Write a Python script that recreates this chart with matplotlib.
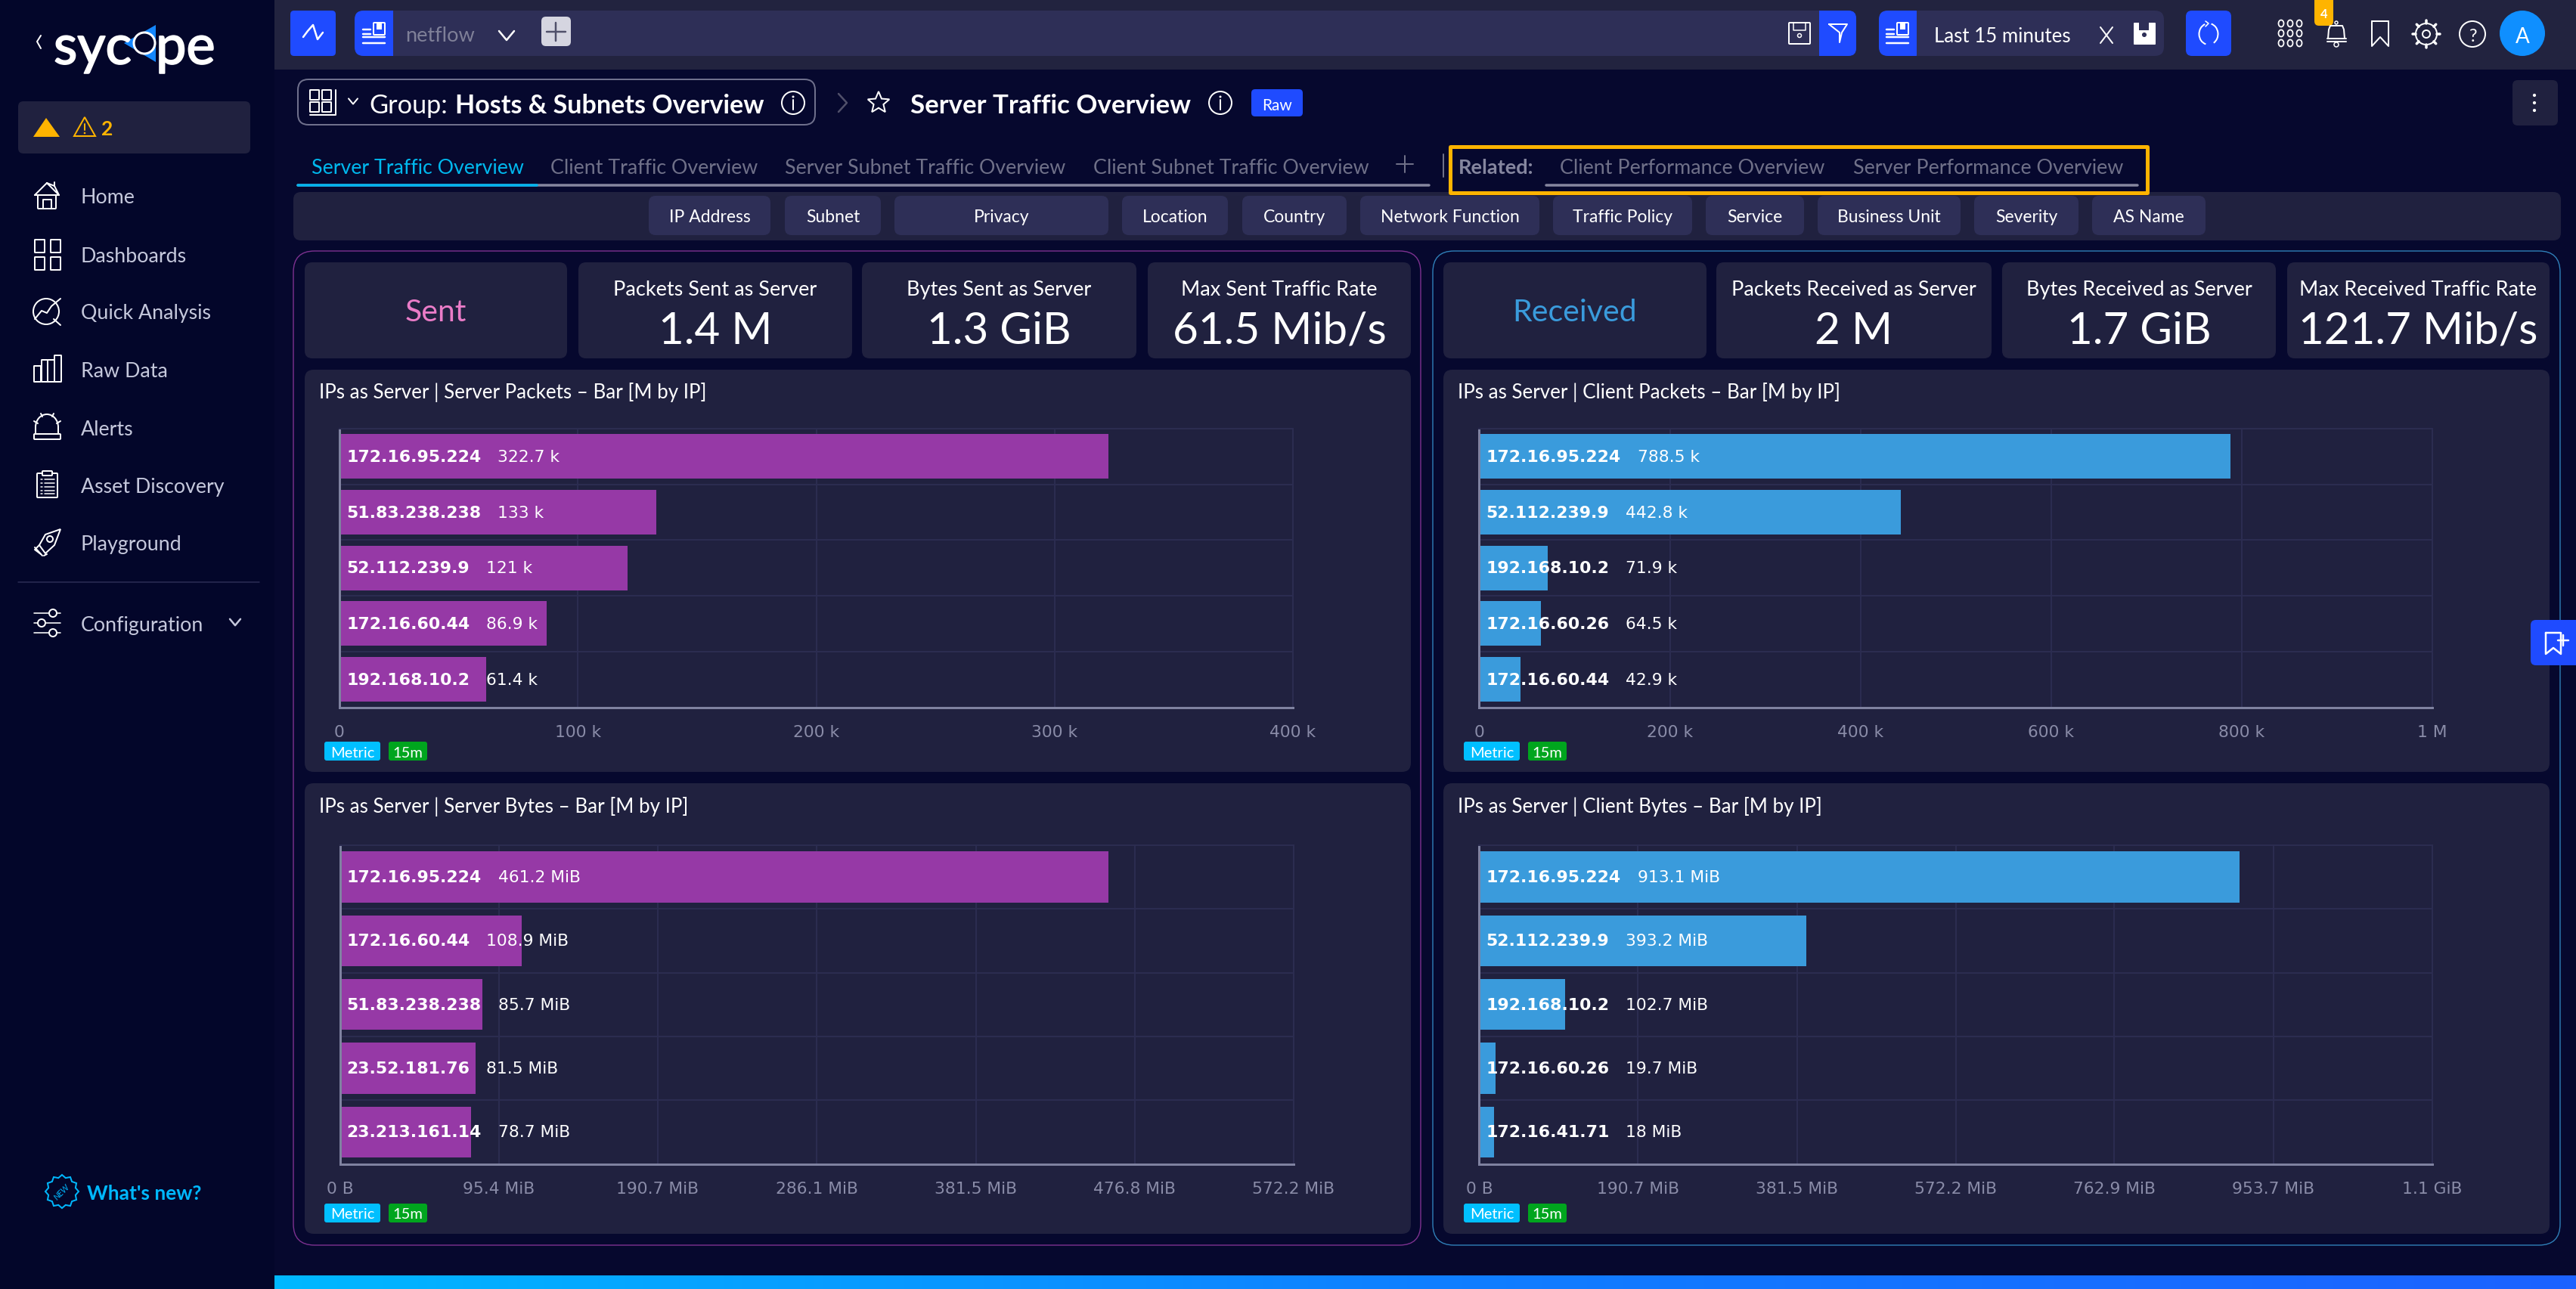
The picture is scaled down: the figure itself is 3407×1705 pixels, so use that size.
import numpy as np
import matplotlib
matplotlib.use("Agg")
import matplotlib.pyplot as plt
import matplotlib.patheffects as pe
from matplotlib.patches import FancyBboxPatch, Polygon, Circle, Ellipse, Arc, Rectangle
from matplotlib.colors import LinearSegmentedColormap

# ---------- data ----------
sent_packets_ips = ["172.16.95.224", "51.83.238.238", "52.112.239.9", "172.16.60.44", "192.168.10.2"]
sent_packets_values = [322700, 133000, 121000, 86900, 61400]
sent_packets_labels = ["322.7 k", "133 k", "121 k", "86.9 k", "61.4 k"]
sent_packets_ticks = [0, 100000, 200000, 300000, 400000]
sent_packets_ticklabels = ["0", "100 k", "200 k", "300 k", "400 k"]

sent_bytes_ips = ["172.16.95.224", "172.16.60.44", "51.83.238.238", "23.52.181.76", "23.213.161.14"]
sent_bytes_values = [461.2, 108.9, 85.7, 81.5, 78.7]
sent_bytes_labels = ["461.2 MiB", "108.9 MiB", "85.7 MiB", "81.5 MiB", "78.7 MiB"]
sent_bytes_ticks = [0, 95.4, 190.7, 286.1, 381.5, 476.8, 572.2]
sent_bytes_ticklabels = ["0 B", "95.4 MiB", "190.7 MiB", "286.1 MiB", "381.5 MiB", "476.8 MiB", "572.2 MiB"]

recv_packets_ips = ["172.16.95.224", "52.112.239.9", "192.168.10.2", "172.16.60.26", "172.16.60.44"]
recv_packets_values = [788500, 442800, 71900, 64500, 42900]
recv_packets_labels = ["788.5 k", "442.8 k", "71.9 k", "64.5 k", "42.9 k"]
recv_packets_ticks = [0, 200000, 400000, 600000, 800000, 1000000]
recv_packets_ticklabels = ["0", "200 k", "400 k", "600 k", "800 k", "1 M"]

recv_bytes_ips = ["172.16.95.224", "52.112.239.9", "192.168.10.2", "172.16.60.26", "172.16.41.71"]
recv_bytes_values = [913.1, 393.2, 102.7, 19.7, 18.0]
recv_bytes_labels = ["913.1 MiB", "393.2 MiB", "102.7 MiB", "19.7 MiB", "18 MiB"]
recv_bytes_ticks = [0, 190.7, 381.5, 572.2, 762.9, 953.7, 1144.4]
recv_bytes_ticklabels = ["0 B", "190.7 MiB", "381.5 MiB", "572.2 MiB", "762.9 MiB", "953.7 MiB", "1.1 GiB"]

chart_titles = ["IPs as Server | Server Packets – Bar [M by IP]", "IPs as Server | Server Bytes – Bar [M by IP]",
                "IPs as Server | Client Packets – Bar [M by IP]", "IPs as Server | Client Bytes – Bar [M by IP]"]
kpi_sent_titles = ["Packets Sent as Server", "Bytes Sent as Server", "Max Sent Traffic Rate"]
kpi_sent_values = ["1.4 M", "1.3 GiB", "61.5 Mib/s"]
kpi_recv_titles = ["Packets Received as Server", "Bytes Received as Server", "Max Received Traffic Rate"]
kpi_recv_values = ["2 M", "1.7 GiB", "121.7 Mib/s"]
menu_items = ["Home", "Dashboards", "Quick Analysis", "Raw Data", "Alerts", "Asset Discovery", "Playground", "Configuration"]
filter_names = ["IP Address", "Subnet", "Privacy", "Location", "Country", "Network Function",
                "Traffic Policy", "Service", "Business Unit", "Severity", "AS Name"]
tab_names = ["Server Traffic Overview", "Client Traffic Overview", "Server Subnet Traffic Overview", "Client Subnet Traffic Overview"]
related_names = ["Client Performance Overview", "Server Performance Overview"]

# ---------- layout ----------
W, H = 3407, 1706
BG = "#06082e"; SIDE = "#03062a"; CARD = "#20213f"; CHIP = "#2e2f57"; BLUE = "#1f4bff"
BAR_P = "#9639a6"; BAR_B = "#3a9bdc"; UI = "Lato"; CH = "DejaVu Sans"
WHITE = "#ffffff"; GRAY = "#7f8098"; YEL = "#ffb400"

fig = plt.figure(figsize=(W / 100, H / 100), dpi=100, facecolor=BG)
ui = fig.add_axes([0, 0, 1, 1], zorder=0)
ui.set_xlim(0, W); ui.set_ylim(H, 0); ui.axis("off")
PX = 0.72


def rr(x0, y0, x1, y1, r=10, fc=CARD, ec="none", lw=0, z=1):
    p = FancyBboxPatch((x0 + r, y0 + r), x1 - x0 - 2 * r, y1 - y0 - 2 * r, boxstyle=f"round,pad={r},rounding_size={r}",
                       fc=fc, ec=ec, lw=lw * PX, zorder=z)
    ui.add_patch(p)


def rect(x0, y0, x1, y1, fc, z=1):
    ui.add_patch(Rectangle((x0, y0), x1 - x0, y1 - y0, fc=fc, ec="none", zorder=z))


def line(xs, ys, c=WHITE, lw=2, z=3):
    ui.plot(xs, ys, color=c, lw=lw * PX, zorder=z, solid_capstyle="round", solid_joinstyle="round")


def circ(x, y, r, fc="none", ec=WHITE, lw=2, z=3):
    ui.add_patch(Circle((x, y), r, fc=fc, ec=ec, lw=lw * PX, zorder=z))


def txt(x, y, s, size, c=WHITE, ha="left", weight="normal", fam=UI, z=4):
    return ui.text(x, y, s, fontsize=size, color=c, ha=ha, va="center_baseline", fontweight=weight, family=fam, zorder=z)


def chevron_down(x, y, s=8, c=WHITE, lw=2.5):
    line([x - s, x, x + s], [y - s * 0.6, y + s * 0.6, y - s * 0.6], c, lw)


def info(x, y, r=15, c=WHITE):
    circ(x, y, r, ec=c, lw=2)
    line([x, x], [y - 4, y + 9], c, 2)
    circ(x, y - 8, 1, fc=c, ec=c, lw=1)


def star(x, y, r=15, c=WHITE):
    a = np.deg2rad(np.arange(-90, 270, 36))
    rad = np.array([r, r * 0.45] * 5)
    ui.add_patch(Polygon(np.c_[x + rad * np.cos(a), y + rad * np.sin(a)], closed=True, fc="none", ec=c, lw=2 * PX, zorder=3))


def doc_icon(x, y):
    rr(x, y - 9, x + 15, y + 7, 1, fc="none", ec=WHITE, lw=2, z=3)
    rect(x + 4, y - 9, x + 11, y, WHITE, 3)
    line([x - 14, x - 4], [y, y], lw=2.5)
    line([x - 14, x - 4], [y + 6, y + 6], lw=2.5)
    line([x - 14, x + 15], [y + 10, y + 10], lw=2.5)
    line([x - 14, x + 15], [y + 18, y + 18], lw=2.5)


# ---------- main regions ----------
rect(0, 0, 363, H, SIDE, 0)
rect(363, 0, W, 93, "#22233f", 0)
grad = LinearSegmentedColormap.from_list("g", ["#00b8ff", "#0f7fff", "#1c62ff"])
ui.imshow(np.linspace(0, 1, 256)[None, :], extent=(363, W, 1706, 1688), cmap=grad, aspect="auto", zorder=1)
ui.set_xlim(0, W); ui.set_ylim(H, 0)

# ---------- top bar ----------
rr(384, 15, 444, 75, 5, fc=BLUE)
line([401, 407, 414, 420, 427], [50, 42, 34, 53, 44], lw=2.5)
rr(469, 15, 2455, 75, 12, fc=CHIP)
rr(469, 15, 530, 75, 12, fc=BLUE, z=2); rect(505, 15, 520, 75, BLUE, 2); rect(520, 15, 532, 75, CHIP, 2)
doc_icon(494, 40)
txt(536, 45, "netflow", 19.5, GRAY)
chevron_down(670, 48, 10, WHITE, 2.5)
rr(716, 23, 755, 62, 6, fc="#d5d5e0", z=2)
line([735.5, 735.5], [31, 55], "#50506a", 2.5); line([723, 748], [43, 43], "#50506a", 2.5)
rr(2366, 31, 2394, 59, 1, fc="none", ec=WHITE, lw=2, z=3)
line([2372, 2372, 2388, 2388], [31, 41, 41, 31], lw=1.5)
circ(2380, 48, 2.5, lw=1.5)
rr(2406, 15, 2455, 75, 10, fc=BLUE, z=2); rect(2406, 15, 2430, 75, BLUE, 2)
line([2419, 2443, 2436, 2433, 2433, 2419], [33, 33, 44, 57, 44, 33], lw=2)
rr(2485, 15, 2862, 75, 12, fc=CHIP)
rr(2485, 15, 2545, 75, 12, fc=BLUE, z=2); rect(2535, 15, 2546, 75, CHIP, 2)
doc_icon(2509, 40)
txt(2558, 46, "Last 15 minutes", 18.6)
line([2778, 2794], [37, 58], lw=2); line([2794, 2778], [37, 58], lw=2)
rr(2822, 31, 2851, 60, 1, fc=WHITE, z=3); rect(2829, 31, 2842, 41, CHIP, 4); circ(2836, 47, 2.5, fc=CHIP, ec=CHIP, lw=1, z=4)
rr(2891, 15, 2951, 75, 8, fc=BLUE)
ui.add_patch(Arc((2921, 46), 25, 28, theta1=-75, theta2=60, color=WHITE, lw=2 * PX, zorder=3))
ui.add_patch(Arc((2921, 46), 25, 28, theta1=105, theta2=250, color=WHITE, lw=2 * PX, zorder=3))
line([2917, 2921, 2917], [29, 32, 36], lw=1.6)
for gx in (3017, 3029, 3041):
    for gy in (32, 45, 58):
        ui.add_patch(Ellipse((gx, gy), 7, 9, fc="none", ec=WHITE, lw=1.8 * PX, zorder=3))
rr(3061, -8, 3086, 35, 6, fc=YEL, z=3)
txt(3073.5, 17, "4", 12, WHITE, "center", "bold")
line([3079, 3080, 3082, 3098, 3100, 3101], [52, 40, 35, 35, 40, 52], lw=2)
line([3078, 3103], [52, 52], lw=2); line([3078, 3103], [56, 56], lw=2); circ(3090, 31, 2, lw=1.5); circ(3090, 60, 3, lw=1.5)
line([3137, 3137, 3148, 3159, 3159], [29, 62, 50, 62, 29], lw=2); line([3137, 3159], [29, 29], lw=2)
circ(3209, 46, 14, lw=2); circ(3209, 46, 5, lw=2)
for a in np.arange(0, 360, 45):
    ca, sa = np.cos(np.deg2rad(a)), np.sin(np.deg2rad(a))
    line([3209 + 14 * ca, 3209 + 18 * ca], [46 + 14 * sa, 46 + 18 * sa], lw=3.5)
circ(3270, 46, 17, lw=2)
txt(3270, 46, "?", 17, WHITE, "center")
ui.add_patch(Ellipse((3336, 45), 60, 60, fc="#0f8fff", ec="none", zorder=2))
txt(3336, 46, "A", 20, WHITE, "center")

# ---------- sidebar ----------
line([54, 49, 54], [48, 56, 65], WHITE, 2)
for lx, ls in ((71, "syc"), (206, "pe")):
    t = txt(lx, 59, ls, 52, WHITE)
    t.set_path_effects([pe.withStroke(linewidth=1.3, foreground=WHITE)])
ui.add_patch(Polygon([(206, 34), (206, 83), (164, 58)], closed=True, fc="#1487ff", ec="none", zorder=3))
circ(191, 58, 14, fc="#04052a", ec="#ffffff", lw=3, z=4)
rr(24, 135, 331, 204, 7, fc=CARD)
ui.add_patch(Polygon([(61, 157), (79, 182), (44, 182)], closed=True, fc=YEL, ec="none", zorder=3))
ui.add_patch(Polygon([(112, 156), (126, 181), (98, 181)], closed=True, fc="none", ec=YEL, lw=2 * PX, zorder=3))
line([112, 112], [165, 173], YEL, 2); circ(112, 177, 0.8, fc=YEL, ec=YEL, lw=1)
txt(134, 169, "2", 19, YEL, weight="bold")
menu_y = [259, 337, 412, 489, 566, 642, 718, 825]
for name, y in zip(menu_items, menu_y):
    txt(107, y, name, 19.3, "#c5c8dc")
I = "#ffffff"
# Home
line([46, 62, 72, 78, 62], [259, 243, 247, 259, 243]); line([72, 72], [247, 242])
line([46, 78], [259, 259]); rr(50, 259, 74, 277, 1, fc="none", ec=I, lw=2, z=3); line([57, 57, 68, 68], [277, 265, 265, 277])
# Dashboards
for x0, y0 in ((46, 318), (67, 318), (46, 341), (67, 341)):
    rr(x0, y0, x0 + 13, y0 + 17, 0.5, fc="none", ec=I, lw=2, z=3)
# Quick analysis
circ(61, 413, 17); line([46, 55, 62, 68, 80], [423, 412, 415, 406, 396]); line([71, 80], [423, 431])
# Raw data
for x0, y0 in ((45, 485), (55, 477), (72, 471)):
    rr(x0, y0, x0 + 9 if x0 != 55 else x0 + 17, 506, 0.5, fc="none", ec=I, lw=2, z=3)
line([63, 63], [477, 506])
# Alerts
rr(45, 575, 80, 582, 1, fc="none", ec=I, lw=2, z=3)
ui.add_patch(Arc((62, 566), 30, 34, theta1=180, theta2=360, color=I, lw=2 * PX, zorder=3))
line([47, 47], [566, 575]); line([77, 77], [566, 575])
line([45, 50], [558, 561]); line([80, 75], [558, 561]); line([54, 56], [548, 552]); line([71, 69], [548, 552])
# Asset
rr(49, 627, 76, 659, 1, fc="none", ec=I, lw=2, z=3); rr(56, 624, 69, 630, 1, fc=SIDE, ec=I, lw=2, z=4)
for yy in (635, 640, 645, 650, 654):
    line([54, 56], [yy, yy], lw=1.5); line([59, 72], [yy, yy], lw=1.5)
# Playground
ui.add_patch(Polygon([(80, 701), (72, 722), (60, 733), (52, 722), (60, 708)], closed=True, fc="none", ec=I, lw=2 * PX, zorder=3))
circ(66, 714, 4, lw=2); line([52, 46, 54], [722, 728, 734]); line([58, 62], [736, 734]); line([46, 56], [725, 736])
line([24, 343], [771, 771], "#2b2d55", 1.5)
# Configuration
for yy, xx in ((812, 70), (825, 55), (838, 70)):
    line([45, 80], [yy, yy], lw=1.6); circ(xx, yy, 5, fc=SIDE, lw=2, z=4)
chevron_down(311, 824, 7, "#c5c8dc", 2.5)
# What's new
a = np.deg2rad(np.arange(0, 360, 15))
rad = np.where(np.arange(24) % 2 == 0, 22, 18.5)
ui.add_patch(Polygon(np.c_[82 + rad * np.cos(a), 1577 + rad * np.sin(a)], closed=True, fc="none", ec="#00b8ff", lw=2 * PX, zorder=3))
ui.text(82, 1577, "NEW", fontsize=8, color="#00b8ff", ha="center", va="center", rotation=45, family=UI, style="italic", zorder=4)
txt(115, 1577, "What's new?", 19, "#00b8ff", weight="bold")

# ---------- title row ----------
rr(394, 106, 1078, 166, 14, fc="none", ec="#6f708c", lw=2)
for x0, y0 in ((410, 120), (426, 120), (410, 136), (426, 136)):
    rr(x0, y0, x0 + 12, y0 + 13, 0.5, fc="none", ec=WHITE, lw=2, z=3)
line([410, 444, 444], [153, 153, 120], lw=2)
chevron_down(467, 135, 6, WHITE, 2)
txt(488, 137, "Group:", 24.7, WHITE)
txt(602, 137, "Hosts & Subnets Overview", 24.5, WHITE, weight="bold")
info(1049, 137)
line([1109, 1120, 1109], [125, 137, 149], "#50506a", 2.5)
star(1162, 137)
txt(1204, 137, "Server Traffic Overview", 25, WHITE, weight="bold")
info(1614, 137)
rr(1655, 119, 1723, 155, 5, fc=BLUE)
txt(1689, 138, "Raw", 15, WHITE, "center")
rr(3323, 107, 3383, 167, 7, fc=CARD)
for yy in (127, 137, 147):
    circ(3352, yy, 1.6, fc=WHITE, ec=WHITE, lw=1)

# ---------- tabs ----------
tab_x = [412, 728.5, 1038, 1446]
line([394, 1890], [246, 246], "#85869f", 3.5, 2)
line([394, 710], [246, 246], "#00b4f0", 3.5, 2)
for i, (n, x) in enumerate(zip(tab_names, tab_x)):
    txt(x, 220, n, 19.3, "#00b8ee" if i == 0 else "#6f7088")
line([1847, 1869], [218, 218], "#6f7088", 2); line([1858, 1858], [207, 229], "#6f7088", 2)
line([1909, 1909], [205, 235], "#6f7088", 2)
txt(1929, 220, "Related:", 19.5, "#85869f", weight="bold")
txt(2063, 220, related_names[0], 19.4, "#6f7088")
txt(2451, 220, related_names[1], 19.4, "#6f7088")
line([2045, 2827], [246, 246], "#85869f", 3.5, 2)

# ---------- filter bar ----------
rr(388, 255, 3387, 319, 10, fc=CARD, z=1)
rr(1918.5, 195.5, 2840.5, 256.5, 0.5, fc="none", ec=YEL, lw=5, z=5)
chip_edges = [(858, 1019), (1038, 1165), (1183, 1466), (1484, 1624), (1643, 1781), (1799, 2036),
              (2054, 2238), (2256, 2386), (2404, 2593), (2611, 2749), (2767, 2917)]
for n, (a0, a1) in zip(filter_names, chip_edges):
    rr(a0, 260, a1, 312, 9, fc=CHIP, z=2)
    txt((a0 + a1) / 2, 285, n, 16.5, WHITE, "center")

# ---------- outer frames ----------
rr(388, 333, 1879, 1648, 28, fc="none", ec="#7d3190", lw=1.4, z=1)
rr(1895, 333, 3386, 1648, 28, fc="none", ec="#2f7fb8", lw=1.4, z=1)


# ---------- KPI cards ----------
def kpis(cards, heading, hcolor, titles, values):
    for (a0, a1) in cards:
        rr(a0, 348, a1, 475, 10, fc=CARD)
    a0, a1 = cards[0]
    txt((a0 + a1) / 2, 410, heading, 29.5, hcolor, "center")
    for (a0, a1), t, v in zip(cards[1:], titles, values):
        c = (a0 + a1) / 2
        txt(c, 381, t, 19.5, WHITE, "center")
        txt(c, 433, v, 42, WHITE, "center")


kpis([(403, 750), (765, 1127), (1140, 1503), (1518, 1866)], "Sent", "#ea7cc8", kpi_sent_titles, kpi_sent_values)
kpis([(1909, 2257), (2270, 2634), (2648, 3010), (3025, 3372)], "Received", BAR_B, kpi_recv_titles, kpi_recv_values)


# ---------- charts ----------
def chart(box, plot, title, title_y, tag_box, ips, values, labels, ticks, ticklabels, color):
    px0, py0, px1, py1 = box
    rr(px0, py0, px1, py1, 12, fc=CARD)
    txt(px0 + 19, title_y, title, 18.7, "#ffffff")
    x0, y0, x1, y1 = plot
    ax = fig.add_axes([x0 / W, 1 - y1 / H, (x1 - x0) / W, (y1 - y0) / H], zorder=2)
    ax.patch.set_alpha(0)
    pos = np.arange(len(values))
    ax.barh(pos, values, height=0.8, color=color, linewidth=0, zorder=2)
    ax.set_ylim(len(values) - 0.5, -0.5)
    ax.set_xlim(ticks[0], ticks[-1])
    ax.set_yticks(pos - 0.5, labels=[""] * len(pos))
    ax.set_xticks(ticks, labels=ticklabels)
    ax.tick_params(axis="both", length=0)
    ax.tick_params(axis="x", labelsize=15.7, labelcolor="#8a8ca8", pad=16)
    for t in ax.get_xticklabels():
        t.set_family(CH)
    ax.grid(True, color="#2b2c50", lw=2 * PX, zorder=1)
    ax.set_axisbelow(True)
    for s in ("top", "right"):
        ax.spines[s].set_color("#2b2c50"); ax.spines[s].set_linewidth(2 * PX)
    for s in ("left", "bottom"):
        ax.spines[s].set_color("#7f82a0"); ax.spines[s].set_linewidth(3 * PX)
    for p, ip, lab in zip(pos, ips, labels):
        ax.annotate(ip, (0, p), xytext=(6.5, 0), textcoords="offset points", va="center", color=WHITE, fontsize=15.8,
                    fontweight="bold", family=CH, zorder=5)
        ax.annotate(lab, (0, p), xytext=((9 + 15.4 * len(ip)) * PX, 0), textcoords="offset points", va="center",
                    color=WHITE, fontsize=15.7, family=CH, zorder=5)
    tx0, ty0 = tag_box
    rr(tx0, ty0, tx0 + 74, ty0 + 25, 3, fc="#00bfff")
    txt(tx0 + 37, ty0 + 12.5, "Metric", 14.5, WHITE, "center")
    rr(tx0 + 85, ty0, tx0 + 136, ty0 + 25, 3, fc="#00a51e")
    txt(tx0 + 110.5, ty0 + 12.5, "15m", 14.5, WHITE, "center")


chart((403, 490, 1866, 1022), (449, 568, 1710, 936.5), chart_titles[0], 516, (429, 982),
      sent_packets_ips, sent_packets_values, sent_packets_labels, sent_packets_ticks, sent_packets_ticklabels, BAR_P)
chart((403, 1037, 1866, 1633), (449.5, 1119, 1711, 1540.5), chart_titles[1], 1064, (429, 1593),
      sent_bytes_ips, sent_bytes_values, sent_bytes_labels, sent_bytes_ticks, sent_bytes_ticklabels, BAR_P)
chart((1909, 490, 3372, 1022), (1956.5, 568, 3216.5, 936.5), chart_titles[2], 516, (1936, 982),
      recv_packets_ips, recv_packets_values, recv_packets_labels, recv_packets_ticks, recv_packets_ticklabels, BAR_B)
chart((1909, 1037, 3372, 1633), (1956.5, 1119, 3216.5, 1540.5), chart_titles[3], 1064, (1936, 1593),
      recv_bytes_ips, recv_bytes_values, recv_bytes_labels, recv_bytes_ticks, recv_bytes_ticklabels, BAR_B)

# ---------- side bookmark ----------
rr(3347, 821, 3420, 881, 7, fc=BLUE, z=3)
line([3367, 3367, 3377, 3387, 3387, 3367], [838, 866, 858, 866, 838, 838], lw=2.5, z=4)
line([3383, 3397], [848, 848], lw=2.5, z=4); line([3390, 3390], [841, 855], lw=2.5, z=4)

fig.savefig("out.png", dpi=100, facecolor=BG)
